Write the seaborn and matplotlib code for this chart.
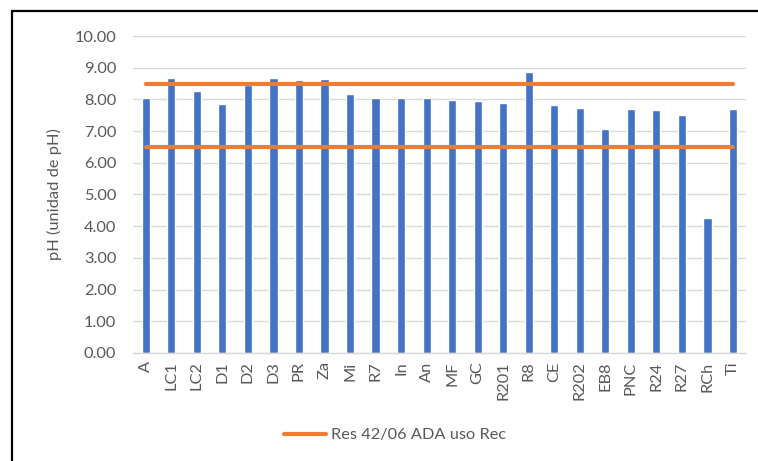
import numpy as np
import pandas as pd
import matplotlib
matplotlib.use('Agg')
import matplotlib.pyplot as plt
import seaborn as sns
from matplotlib.lines import Line2D

# data
sites = ['A', 'LC1', 'LC2', 'D1', 'D2', 'D3', 'PR', 'Za', 'Mi', 'R7', 'In', 'An',
         'MF', 'GC', 'R201', 'R8', 'CE', 'R202', 'EB8', 'PNC', 'R24', 'R27', 'RCh', 'Ti']
ph_values = [8.03, 8.66, 8.28, 7.84, 8.45, 8.66, 8.61, 8.63, 8.16, 8.03, 8.03, 8.03,
             7.98, 7.94, 7.88, 8.86, 7.81, 7.72, 7.08, 7.69, 7.66, 7.50, 4.25, 7.69]
limit_upper = 8.5
limit_lower = 6.5
legend_label = 'Res 42/06 ADA uso Rec'

BLUE = '#4472C4'
ORANGE = '#ED7D31'
GRAY_TXT = '#595959'
GRID = '#D9D9D9'
FS = 11.8

sns.set_style('white')
plt.rcParams['font.family'] = ['Lato', 'DejaVu Sans']

df = pd.DataFrame({'site': sites, 'ph': ph_values})

fig = plt.figure(figsize=(7.58, 4.61), dpi=100)
ax = fig.add_axes([0.1755, 0.2343, 0.8083, 0.6876])

sns.barplot(data=df, x='site', y='ph', color=BLUE, width=0.32, saturation=1,
            ax=ax, zorder=2)

# standard limits drawn as line series across category centres
x_pos = np.arange(len(sites))
ax.plot(x_pos, [limit_upper] * len(sites), color=ORANGE, lw=3, zorder=3,
        solid_capstyle='round')
ax.plot(x_pos, [limit_lower] * len(sites), color=ORANGE, lw=3, zorder=3,
        solid_capstyle='round')

ax.set_xlim(-0.5, len(sites) - 0.5)
ax.set_ylim(0, 10)
ax.set_yticks(np.arange(0, 10.01, 1))
ax.set_yticklabels([f'{v:.2f}' for v in np.arange(0, 10.01, 1)])
ax.yaxis.grid(True, color=GRID, lw=1, zorder=0)
ax.set_axisbelow(True)
for s in ['top', 'right', 'left']:
    ax.spines[s].set_visible(False)
ax.spines['bottom'].set_color(GRID)
ax.spines['bottom'].set_linewidth(1)
ax.tick_params(axis='both', length=0, colors=GRAY_TXT, labelsize=FS)
ax.tick_params(axis='y', pad=12)
ax.tick_params(axis='x', rotation=90, pad=6)
ax.set_xlabel('')
ax.set_ylabel('pH (unidad de pH)', color=GRAY_TXT, fontsize=FS, labelpad=9)

handle = Line2D([0], [0], color=ORANGE, lw=3)
fig.legend([handle], [legend_label], loc='center', bbox_to_anchor=(395 / 758, 1 - 435 / 461),
           frameon=False, fontsize=FS, labelcolor=GRAY_TXT, handlelength=2.6,
           handletextpad=0.3)

# outer chart frame (left and top edges visible)
fig.add_artist(Line2D([12 / 758, 12 / 758], [0, 1 - 11 / 461], color='black', lw=1.6,
                      transform=fig.transFigure))
fig.add_artist(Line2D([12 / 758, 1], [1 - 11 / 461, 1 - 11 / 461], color='black', lw=1.6,
                      transform=fig.transFigure))

fig.savefig('out.png', dpi=100)
